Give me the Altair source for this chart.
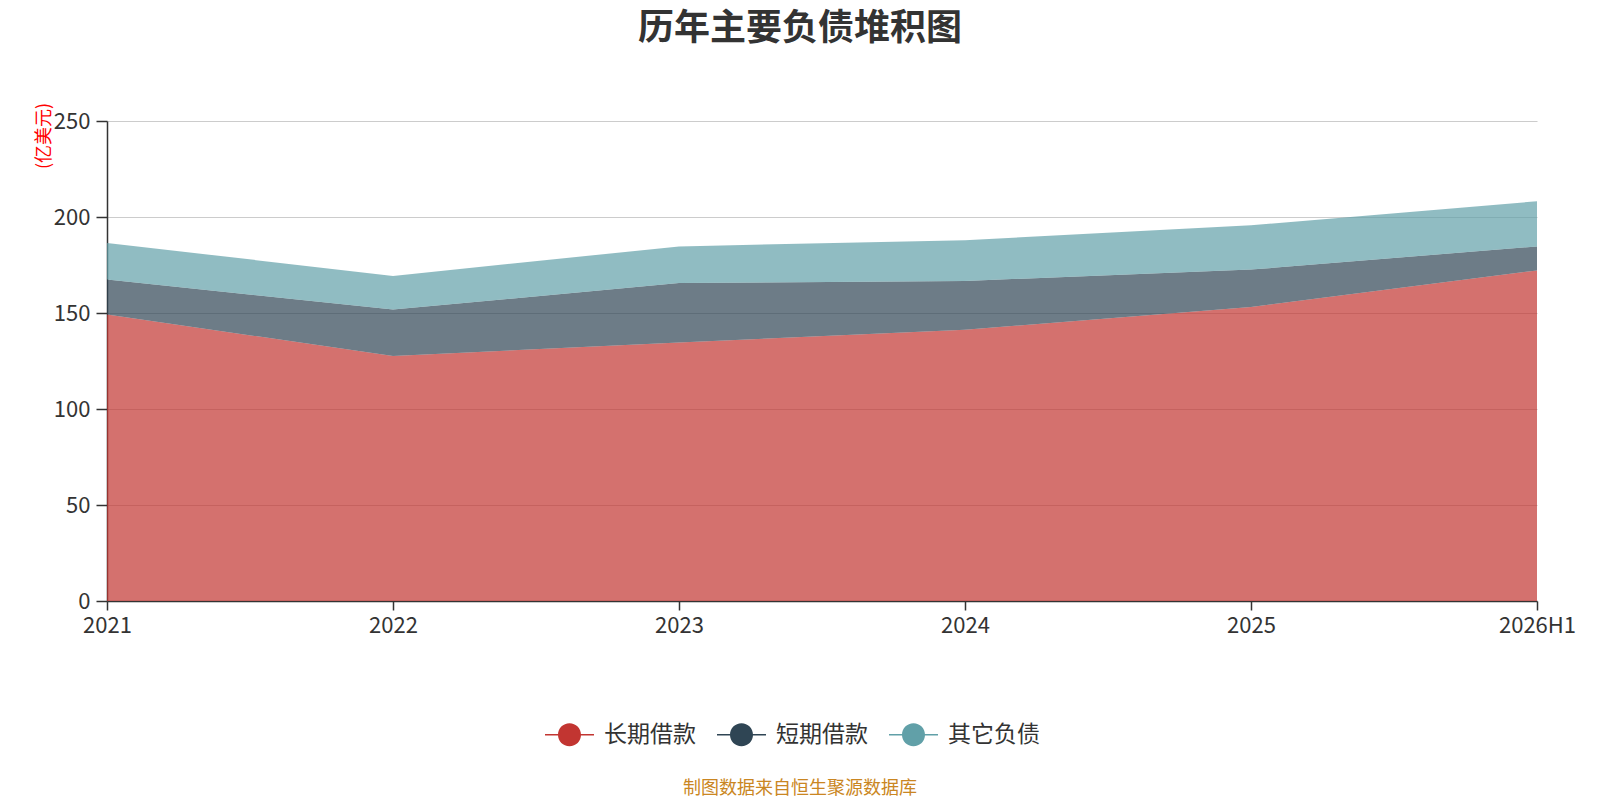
import altair as alt
import pandas as pd

# values in 亿美元
years = ["2021", "2022", "2023", "2024", "2025", "2026H1"]
series = ["长期借款", "短期借款", "其它负债"]
colors = ["#c23531", "#2f4554", "#61a0a8"]
long_term = [149.2, 127.6, 134.6, 141.3, 153.1, 172.2]
short_term = [18.2, 24.2, 31.0, 25.4, 19.5, 12.5]
other = [19.1, 17.5, 19.1, 21.2, 23.1, 23.5]
y_ticks = [0, 50, 100, 150, 200, 250]

FONT = "Noto Sans CJK SC"

rows = []
for i, (name, vals) in enumerate(zip(series, [long_term, short_term, other])):
    for yr, v in zip(years, vals):
        rows.append({"year": yr, "series": name, "order": i, "value": v})
df = pd.DataFrame(rows)

# legend symbol: a dot with a short line through it
legend_symbol = (
    "M-1,-0.03 L1,-0.03 L1,0.03 L-1,0.03 Z "
    "M0.47,0 A0.47,0.47 0 1,1 -0.47,0 A0.47,0.47 0 1,1 0.47,0 Z"
)

areas = (
    alt.Chart(df)
    .mark_area(opacity=0.7)
    .encode(
        x=alt.X(
            "year:N",
            sort=years,
            scale=alt.Scale(type="point", padding=0),
            axis=alt.Axis(
                title=None,
                labelAngle=0,
                labelFontSize=22,
                labelColor="#333",
                labelPadding=5,
                tickSize=9,
                tickColor="#333",
                domainColor="#333",
                domainWidth=1.5,
                tickWidth=1.5,
                grid=False,
            ),
        ),
        y=alt.Y(
            "value:Q",
            stack="zero",
            scale=alt.Scale(domain=[0, 250], nice=False),
            axis=alt.Axis(
                title=None,
                values=y_ticks,
                labelFontSize=22,
                labelColor="#333",
                labelPadding=6,
                tickSize=11,
                tickColor="#333",
                domainColor="#333",
                domainWidth=1.5,
                tickWidth=1.5,
                gridColor="#cccccc",
                gridWidth=1.2,
            ),
        ),
        color=alt.Color(
            "series:N",
            sort=series,
            scale=alt.Scale(domain=series, range=colors),
            legend=alt.Legend(
                title=None,
                orient="none",
                direction="horizontal",
                legendX=438,
                legendY=589,
                symbolType=legend_symbol,
                symbolSize=2400,
                symbolOpacity=1,
                symbolStrokeWidth=0,
                labelFontSize=23,
                labelColor="#333",
                labelOffset=10,
                columnPadding=21,
                labelFont=FONT,
            ),
        ),
        order=alt.Order("order:Q"),
    )
)

one = pd.DataFrame({"t": [0]})

title = alt.Chart(one).mark_text(
    text="历年主要负债堆积图", fontSize=36, fontWeight="bold", color="#333",
    align="center", baseline="middle", font=FONT,
).encode(x=alt.value(693), y=alt.value(-92))

unit = alt.Chart(one).mark_text(
    text="(亿美元)", fontSize=18, color="#ff0000", angle=270,
    align="center", baseline="middle", font=FONT,
).encode(x=alt.value(-62), y=alt.value(15))

source = alt.Chart(one).mark_text(
    text="制图数据来自恒生聚源数据库", fontSize=18, color="#ca8622",
    align="center", baseline="middle", font=FONT,
).encode(x=alt.value(693), y=alt.value(668))

chart = (
    alt.layer(areas, title, unit, source)
    .properties(
        width=1430,
        height=480,
        autosize=alt.AutoSizeParams(type="none"),
        padding={"left": 99, "top": 113, "right": 55, "bottom": 197},
    )
    .configure(font=FONT)
    .configure_view(stroke=None)
)

chart.save("out.html", embed_options={"renderer": "svg", "actions": False})
